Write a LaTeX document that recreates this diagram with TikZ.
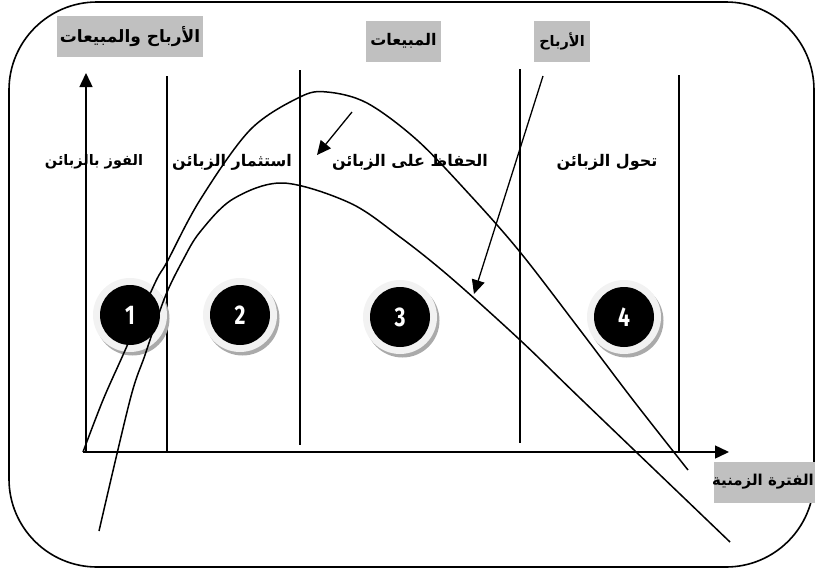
\documentclass[tikz,border=0pt]{standalone}
\usepackage{fontspec}
\newfontfamily\arabicfont[Script=Arabic]{DejaVu Sans}
\newfontfamily\numfont{Fira Sans}
\usetikzlibrary{arrows.meta}
\TeXXeTstate=1
\definecolor{lblgray}{RGB}{192,192,192}
\definecolor{ringgray}{RGB}{242,242,242}
\definecolor{shadowgray}{RGB}{170,170,170}
\newcommand{\artxt}[1]{\beginR #1\endR}
\begin{document}
\begin{tikzpicture}[x=1pt,y=-1pt,line width=1.5pt,
  ar/.style={font=\arabicfont\bfseries\fontsize{16}{18}\selectfont, inner sep=0pt},
  arbig/.style={font=\arabicfont\bfseries\fontsize{17}{19}\selectfont},
  arsmall/.style={font=\arabicfont\bfseries\fontsize{14.5}{17}\selectfont},
  artime/.style={font=\arabicfont\bfseries\fontsize{15}{17}\selectfont},
  graylbl/.style={ar, fill=lblgray, minimum height=41pt},
  stagelbl/.style={ar},
  badge/.style={circle, fill=black, minimum size=60pt, inner sep=0pt, text=white,
    font=\numfont\bfseries\fontsize{27}{27}\selectfont},
  tip/.style={-{Triangle[length=14pt,width=13pt]}},
  curve/.style={line width=1.5pt}
]
\useasboundingbox (0,0) rectangle (815,571);
% frame
\draw[line width=1.6pt, rounded corners=88pt] (9,2) rectangle (814,567);

% vertical stage lines
\coordinate (v1t) at (167,76);  \coordinate (v1b) at (167,452);
\coordinate (v2t) at (300,70);  \coordinate (v2b) at (300,445);
\coordinate (v3t) at (520,69);  \coordinate (v3b) at (520,443);
\coordinate (v4t) at (679,75);  \coordinate (v4b) at (679,452);
\draw (v1t) -- (v1b);
\draw (v2t) -- (v2b);
\draw (v3t) -- (v3b);
\draw (v4t) -- (v4b);

% axes
\coordinate (O) at (83,452);
\coordinate (xend) at (729,452);
\coordinate (ybot) at (86,452);
\coordinate (yend) at (86,73);
\draw[tip] (O) -- (xend);
\draw[tip] (ybot) -- (yend);

% badges
\foreach \n/\x/\y in {1/130/315, 2/240/315, 3/400/317, 4/624/317} {
  \fill[shadowgray] (\x+2.5,\y+3.5) circle (37pt);
  \fill[ringgray] (\x,\y) circle (37pt);
  \node[badge] (b\n) at (\x,\y) {\scalebox{0.78}[1]{\n}};
}

% sales curve (outer)
\draw[curve] plot[smooth, tension=0.55] coordinates {
  (83,452) (103,400) (123,355) (155,283) (167,262) (200,200) (250,130) (300,97)
  (327,92) (367,103) (417,140) (470,195) (520,252) (580,330) (633,400) (688,470)};
% profit curve (inner)
\draw[curve] plot[smooth, tension=0.55] coordinates {
  (99,531) (130,400) (145,355) (165,297) (183,260) (200,232) (233,199) (283,183)
  (350,203) (400,237) (450,277) (520,340) (582,400) (730,542)};

% labels
\node[graylbl, arbig, minimum width=146pt] (lblaxis) at (130,36.5) {\artxt{الأرباح والمبيعات}};
\node[graylbl, minimum width=75pt] (lblsales) at (403.5,41) {\artxt{المبيعات}};
\node[graylbl, arsmall, minimum width=56pt] (lblprofit) at (562,41.5) {\artxt{الأرباح}};
\node[graylbl, artime, minimum width=101pt] (lbltime) at (764.5,482) {\hspace*{-3pt}\artxt{الفترة الزمنية}};

\node[stagelbl, arsmall] (s1) at (94,162) {\artxt{الفوز بالزبائن}};
\node[stagelbl] (s2) at (232,162) {\artxt{استثمار الزبائن}};
\node[stagelbl] (s3) at (410,162) {\artxt{الحفاظ على الزبائن}};
\node[stagelbl] (s4) at (607,162) {\artxt{تحول الزبائن}};

% pointer arrows
\coordinate (a1s) at (352,112); \coordinate (a1e) at (317,155);
\coordinate (a2s) at (543,76);  \coordinate (a2e) at (474,294);
\draw[tip, line width=1.3pt] (a1s) -- (a1e);
\draw[tip, line width=1.3pt] (a2s) -- (a2e);
\end{tikzpicture}
\end{document}
